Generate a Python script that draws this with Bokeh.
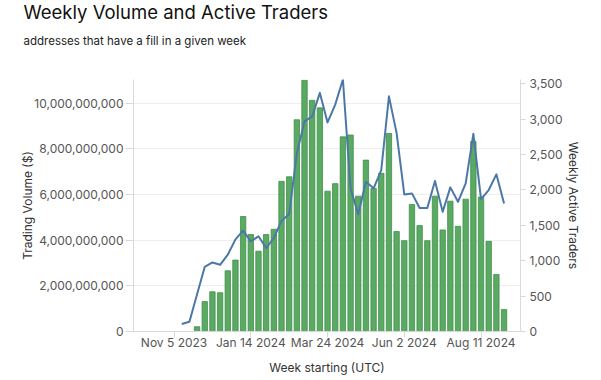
import pandas as pd
from bokeh.plotting import figure
from bokeh.models import (Range1d, LinearAxis, FixedTicker, NumeralTickFormatter,
                          DatetimeTickFormatter, Title, ColumnDataSource)
from bokeh.embed import file_html
from bokeh.resources import INLINE

# ---- data ----
week_start = ["2023-11-12", "2023-11-19", "2023-11-26", "2023-12-03", "2023-12-10", "2023-12-17",
              "2023-12-24", "2023-12-31", "2024-01-07", "2024-01-14", "2024-01-21", "2024-01-28",
              "2024-02-04", "2024-02-11", "2024-02-18", "2024-02-25", "2024-03-03", "2024-03-10",
              "2024-03-17", "2024-03-24", "2024-03-31", "2024-04-07", "2024-04-14", "2024-04-21",
              "2024-04-28", "2024-05-05", "2024-05-12", "2024-05-19", "2024-05-26", "2024-06-02",
              "2024-06-09", "2024-06-16", "2024-06-23", "2024-06-30", "2024-07-07", "2024-07-14",
              "2024-07-21", "2024-07-28", "2024-08-04", "2024-08-11", "2024-08-18", "2024-08-25",
              "2024-09-01"]
volume_usd = [0, 0, 0.21e9, 1.31e9, 1.74e9, 1.70e9, 2.66e9, 3.13e9, 5.04e9,
              4.25e9, 3.52e9, 4.25e9, 4.48e9, 6.58e9, 6.78e9, 9.28e9, 11.01e9, 10.13e9,
              9.80e9, 6.15e9, 6.48e9, 8.53e9, 8.61e9, 5.93e9, 7.51e9, 6.27e9,
              6.93e9, 8.68e9, 4.38e9, 3.98e9, 5.57e9, 4.64e9, 3.98e9, 5.93e9, 4.45e9,
              5.71e9, 4.61e9, 5.80e9, 8.33e9, 5.89e9, 3.95e9, 2.50e9, 0.96e9]
active_traders = [105, 138, 525, 914, 975, 942, 1084, 1301, 1424,
                  1273, 1344, 1178, 1320, 1561, 1660, 2517, 2966,
                  3037, 3369, 2952, 3203, 3558, 2021, 1656, 2114,
                  2021, 2280, 3320, 2801, 1935, 1950, 1745, 1745, 2124,
                  1689, 2035, 1831, 2092, 2791, 1869, 1997, 2219, 1808]
x_tick_dates = ["2023-11-05", "2024-01-14", "2024-03-24", "2024-06-02", "2024-08-11"]
volume_ticks = [0, 2e9, 4e9, 6e9, 8e9, 10e9]
trader_ticks = [0, 500, 1000, 1500, 2000, 2500, 3000, 3500]
x_domain = ["2023-09-29", "2024-09-16"]

title_text = "Weekly Volume and Active Traders"
subtitle_text = "addresses that have a fill in a given week"

FONT = "Inter"
WEEK_MS = 7 * 24 * 3600 * 1000

dates = pd.to_datetime(week_start)
src = ColumnDataSource(dict(week=dates, volume=volume_usd, traders=active_traders))

W, H = 600, 379
BOTTOM, LEFT, RIGHT = 48, 133, 81
p = figure(width=W, height=H, output_backend="svg", toolbar_location=None,
           x_axis_type="datetime",
           x_range=Range1d(pd.Timestamp(x_domain[0]), pd.Timestamp(x_domain[1])),
           y_range=Range1d(0, max(volume_usd) * 1.003),
           min_border_left=LEFT, min_border_right=RIGHT - 1, min_border_top=0,
           min_border_bottom=BOTTOM,
           background_fill_color="white", border_fill_color="white")
p.outline_line_color = None
p.extra_y_ranges = {"traders": Range1d(0, max(active_traders) * 1.0)}

p.vbar(x="week", top="volume", width=0.7 * WEEK_MS, source=src,
       fill_color="#5BAA63", line_color="#3F8F49", line_width=0.8)
p.line(x="week", y="traders", source=src, y_range_name="traders",
       line_color="#4C78A8", line_width=2, line_join="round")

tick_color = "#d9d9d9"
label_color = "#555555"

# x axis
xa = p.xaxis[0]
xa.ticker = FixedTicker(ticks=[pd.Timestamp(d).value // 10**6 for d in x_tick_dates])
fmt = "%b %-d %Y"
xa.formatter = DatetimeTickFormatter(milliseconds=fmt, seconds=fmt, minsec=fmt, minutes=fmt,
                                     hourmin=fmt, hours=fmt, days=fmt, months=fmt, years=fmt)
xa.axis_label = "Week starting (UTC)"

# left axis
ya = p.yaxis[0]
ya.ticker = FixedTicker(ticks=volume_ticks)
ya.formatter = NumeralTickFormatter(format="0,0")
ya.axis_label = "Trading Volume ($)"

# right axis
ra = LinearAxis(y_range_name="traders", axis_label="Weekly Active Traders",
                ticker=FixedTicker(ticks=trader_ticks),
                formatter=NumeralTickFormatter(format="0,0"))
p.add_layout(ra, "right")

for ax in [xa, ya, ra]:
    ax.axis_line_color = tick_color
    ax.major_tick_line_color = tick_color
    ax.major_tick_out = 5
    ax.major_tick_in = 0
    ax.minor_tick_line_color = None
    ax.major_label_text_font = FONT
    ax.major_label_text_font_size = "12px"
    ax.major_label_text_color = label_color
    ax.axis_label_text_font = FONT
    ax.axis_label_text_font_size = "12px"
    ax.axis_label_text_font_style = "normal"
    ax.axis_label_text_color = "#333333"

xa.major_tick_out = 6
xa.major_label_standoff = -3
xa.axis_label_standoff = 7
ya.major_tick_out = 8
ya.major_label_standoff = 2
ya.axis_label_standoff = -4
ra.major_tick_out = 5
ra.major_label_standoff = 4
ra.axis_label_standoff = 0

p.xgrid.grid_line_color = None
p.ygrid.grid_line_color = "#eeeeee"
p.ygrid.ticker = FixedTicker(ticks=volume_ticks)

# titles: first added sits closest to the frame (first one is only a spacer)
p.title.text = ""
p.add_layout(Title(text=" ", text_font=FONT, text_font_size="1px",
                   align="left", offset=0, standoff=17), "above")
p.add_layout(Title(text=subtitle_text, text_font=FONT, text_font_size="11.5px",
                   text_font_style="normal", text_color="#222222",
                   align="left", offset=-110, standoff=23), "above")
p.add_layout(Title(text=title_text, text_font=FONT, text_font_size="18.5px",
                   text_font_style="normal", text_color="#111111",
                   align="left", offset=-110, standoff=-4), "above")

open("out.html", "w").write(file_html(p, INLINE))
